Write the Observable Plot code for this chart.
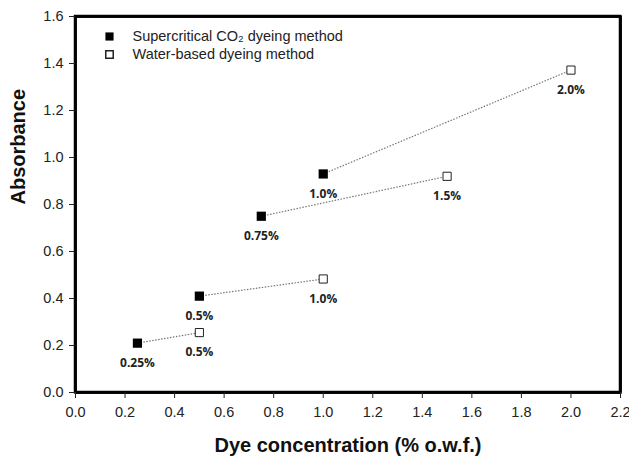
<!DOCTYPE html>
<html><head><meta charset="utf-8">
<script src="https://cdn.jsdelivr.net/npm/d3@7"></script>
<script src="https://cdn.jsdelivr.net/npm/@observablehq/plot@0.6"></script>
<style>
html,body{margin:0;padding:0;background:#fff;overflow:hidden;}
#chart{width:629px;height:459px;overflow:hidden;}
#chart svg{display:block;}
</style>
</head><body><div id="chart"></div>
<script>
const scConc = [0.25, 0.5, 0.75, 1.0];
const scAbs = [0.21, 0.41, 0.75, 0.93];
const scLabels = ["0.25%", "0.5%", "0.75%", "1.0%"];
const wbConc = [0.5, 1.0, 1.5, 2.0];
const wbAbs = [0.255, 0.483, 0.92, 1.372];
const wbLabels = ["0.5%", "1.0%", "1.5%", "2.0%"];
const xTicks = [0.0, 0.2, 0.4, 0.6, 0.8, 1.0, 1.2, 1.4, 1.6, 1.8, 2.0, 2.2];
const yTicks = [0.0, 0.2, 0.4, 0.6, 0.8, 1.0, 1.2, 1.4, 1.6];
const xDomain = [0, 2.2];
const yDomain = [0, 1.6];
const legendLabels = ["Supercritical CO\u2082 dyeing method", "Water-based dyeing method"];

const sc = scConc.map((x, i) => ({x, y: scAbs[i], label: scLabels[i]}));
const wb = wbConc.map((x, i) => ({x, y: wbAbs[i], label: wbLabels[i]}));
const links = sc.map((d, i) => ({x1: d.x, y1: d.y, x2: wb[i].x, y2: wb[i].y}));
const box = [{x1: xDomain[0], x2: xDomain[1], y1: yDomain[0], y2: yDomain[1]}];

const fmt = d3.format(".1f");
const plot = Plot.plot({
  width: 629, height: 459,
  marginLeft: 75, marginRight: 9, marginTop: 16, marginBottom: 67,
  style: {fontFamily: "Liberation Sans", fontSize: "14px", color: "#222"},
  x: {domain: xDomain, label: null},
  y: {domain: yDomain, label: null},
  marks: [
    Plot.frame({stroke: "#000", strokeWidth: 2.5}),
    Plot.rect(box, {x1: "x1", x2: "x2", y1: "y1", y2: "y2", fill: "none", stroke: "#000", strokeWidth: 2.5}),
    Plot.ruleX(xDomain, {stroke: "#000", strokeWidth: 2.5}),
    Plot.ruleY(yDomain, {stroke: "#000", strokeWidth: 2.5}),
    Plot.axisX({ticks: xTicks, tickFormat: fmt, tickSize: 6, tickPadding: 8, fontSize: 14.5, stroke: "#222", label: null}),
    Plot.axisY({ticks: yTicks, tickFormat: fmt, tickSize: 6, tickPadding: 6, fontSize: 14.5, stroke: "#222", label: null}),
    Plot.link(links, {x1: "x1", y1: "y1", x2: "x2", y2: "y2", stroke: "#777", strokeWidth: 1.2, strokeDasharray: "1.5,1.5"}),
    Plot.dot(sc, {x: "x", y: "y", symbol: "square", r: 5.2, fill: "#000"}),
    Plot.dot(wb, {x: "x", y: "y", symbol: "square", r: 4.6, fill: "#fff", stroke: "#222", strokeWidth: 1}),
    Plot.text(sc, {x: "x", y: "y", text: "label", dy: 20, fontWeight: "bold", fontSize: 12, fontFamily: "Open Sans", fill: "#222"}),
    Plot.text(wb, {x: "x", y: "y", text: "label", dy: 20, fontWeight: "bold", fontSize: 12, fontFamily: "Open Sans", fill: "#222"}),
    Plot.dot([legendLabels[0]], {frameAnchor: "top-left", dx: 34, dy: 20, symbol: "square", r: 4.6, fill: "#000"}),
    Plot.dot([legendLabels[1]], {frameAnchor: "top-left", dx: 34, dy: 38, symbol: "square", r: 4.2, fill: "#fff", stroke: "#222"}),
    Plot.text([legendLabels[0]], {frameAnchor: "top-left", dx: 57, dy: 20, lineAnchor: "middle", text: d => d, textAnchor: "start", fontSize: 14.5, fill: "#222"}),
    Plot.text([legendLabels[1]], {frameAnchor: "top-left", dx: 57, dy: 38, lineAnchor: "middle", text: d => d, textAnchor: "start", fontSize: 14.5, fill: "#222"}),
    Plot.text(["Dye concentration (% o.w.f.)"], {frameAnchor: "bottom", dy: 53, lineAnchor: "middle", text: d => d, fontWeight: "bold", fontSize: 20, fill: "#111"}),
    Plot.text(["Absorbance"], {frameAnchor: "left", dx: -57, rotate: -90, text: d => d, fontWeight: "bold", fontSize: 20, fill: "#111"})
  ]
});
document.getElementById("chart").appendChild(plot);
</script>
</body></html>
